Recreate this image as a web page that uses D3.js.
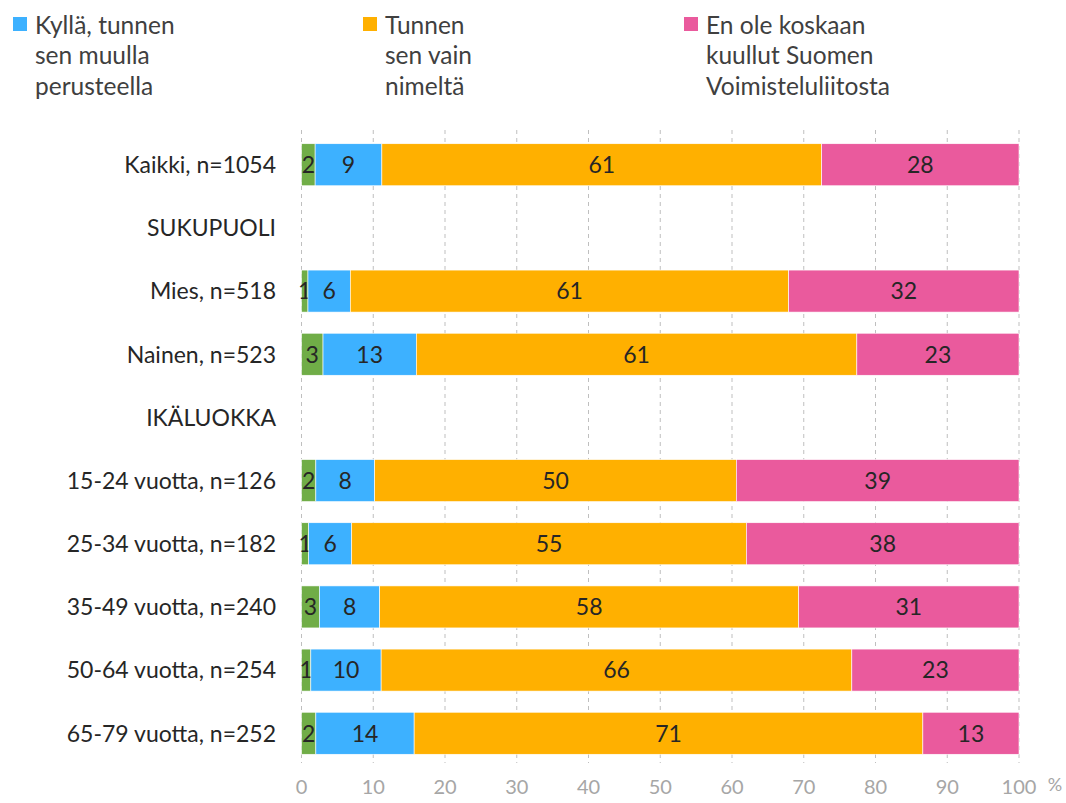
<!DOCTYPE html>
<html>
<head>
<meta charset="utf-8">
<script src="https://cdn.jsdelivr.net/npm/d3@7"></script>
<style>
  body { margin: 0; background: #fff; }
  svg { display: block; font-family: Lato, "Open Sans", sans-serif; }
</style>
</head>
<body>
<div id="chart"></div>
<script>
// rows of the chart (section headers have no values)
const categories = [
  "Kaikki, n=1054", "SUKUPUOLI", "Mies, n=518", "Nainen, n=523", "IKÄLUOKKA",
  "15-24 vuotta, n=126", "25-34 vuotta, n=182", "35-49 vuotta, n=240",
  "50-64 vuotta, n=254", "65-79 vuotta, n=252"
];
const headers = ["SUKUPUOLI", "IKÄLUOKKA"];

// series values (%)
const other   = [1.9, null, 0.9, 3.0, null, 2.0, 1.0, 2.5, 1.3, 2.0];
const kylla   = [9.3, null, 5.9, 13.0, null, 8.2, 6.0, 8.4, 9.8, 13.7];
const nimelta = [61.3, null, 61.1, 61.4, null, 50.4, 55.0, 58.4, 65.6, 70.9];
const enOle   = [27.5, null, 32.1, 22.6, null, 39.4, 38.0, 30.7, 23.3, 13.4];

const seriesKeys = ["other", "kylla", "nimelta", "enOle"];
const seriesColors = ["#70AD47", "#3DB1FF", "#FFB000", "#EA5A9D"];
const legendItems = [
  { key: "kylla", lines: ["Kyllä, tunnen", "sen muulla", "perusteella"] },
  { key: "nimelta", lines: ["Tunnen", "sen vain", "nimeltä"] },
  { key: "enOle", lines: ["En ole koskaan", "kuullut Suomen", "Voimisteluliitosta"] }
];
const xTicks = [0, 10, 20, 30, 40, 50, 60, 70, 80, 90, 100];

const width = 1066, height = 803;
const margin = { top: 133, right: 47, bottom: 38, left: 301.5 };

const rows = categories.map((c, i) => ({
  cat: c, other: other[i], kylla: kylla[i], nimelta: nimelta[i], enOle: enOle[i]
}));

const svg = d3.select("#chart").append("svg")
  .attr("width", width).attr("height", height);

const x = d3.scaleLinear().domain([0, 100]).range([margin.left, width - margin.right]);
const y = d3.scaleBand().domain(categories)
  .range([margin.top, height - margin.bottom]).paddingInner(0.335).paddingOuter(0.17);
const color = d3.scaleOrdinal().domain(seriesKeys).range(seriesColors);

// dashed vertical gridlines
svg.append("g").selectAll("line").data(xTicks).join("line")
  .attr("x1", d => x(d)).attr("x2", d => x(d))
  .attr("y1", margin.top - 3).attr("y2", height - margin.bottom - 2)
  .attr("stroke", "#bfbfbf").attr("stroke-dasharray", "4,4").attr("stroke-width", 1);

// stacked bars
const stack = d3.stack().keys(seriesKeys).value((d, k) => d[k] || 0);
const layers = stack(rows.filter(d => !headers.includes(d.cat)));

const layerG = svg.append("g").selectAll("g").data(layers).join("g")
  .attr("fill", d => color(d.key));

layerG.selectAll("rect").data(d => d).join("rect")
  .attr("x", d => x(d[0]))
  .attr("y", d => y(d.data.cat))
  .attr("width", d => x(d[1]) - x(d[0]))
  .attr("height", y.bandwidth())
  .attr("stroke", "#fff").attr("stroke-width", 0.6);

// value labels
layerG.selectAll("text").data(d => d).join("text")
  .attr("x", d => (x(d[0]) + x(d[1])) / 2)
  .attr("y", d => y(d.data.cat) + y.bandwidth() / 2)
  .attr("dy", "0.36em")
  .attr("text-anchor", "middle")
  .attr("font-size", 23).attr("fill", "#262626")
  .text(d => Math.round(d[1] - d[0]));

// category labels
svg.append("g").selectAll("text").data(categories).join("text")
  .attr("x", 276)
  .attr("y", d => y(d) + y.bandwidth() / 2)
  .attr("dy", "0.36em")
  .attr("text-anchor", "end")
  .attr("font-size", 23).attr("fill", "#262626")
  .text(d => d);

// x axis tick labels
svg.append("g").selectAll("text").data(xTicks).join("text")
  .attr("x", d => x(d))
  .attr("y", 787).attr("dy", "0.36em")
  .attr("text-anchor", "middle")
  .attr("font-size", 20).attr("fill", "#a6a6a6")
  .text(d => d);
svg.append("text")
  .attr("x", 1055).attr("y", 785).attr("dy", "0.36em")
  .attr("text-anchor", "middle")
  .attr("font-size", 18).attr("fill", "#a6a6a6")
  .text("%");

// legend
const legendX = [13, 363, 684];
const legend = svg.append("g").selectAll("g").data(legendItems).join("g")
  .attr("transform", (d, i) => `translate(${legendX[i]},0)`);
legend.append("rect")
  .attr("x", 0).attr("y", 17).attr("width", 14).attr("height", 14)
  .attr("fill", d => color(d.key));
legend.append("text")
  .attr("font-size", 24.5).attr("fill", "#404040")
  .selectAll("tspan").data(d => d.lines).join("tspan")
  .attr("x", 22).attr("y", (d, i) => 25 + i * 30.5).attr("dy", "0.36em")
  .text(d => d);
</script>
</body>
</html>
